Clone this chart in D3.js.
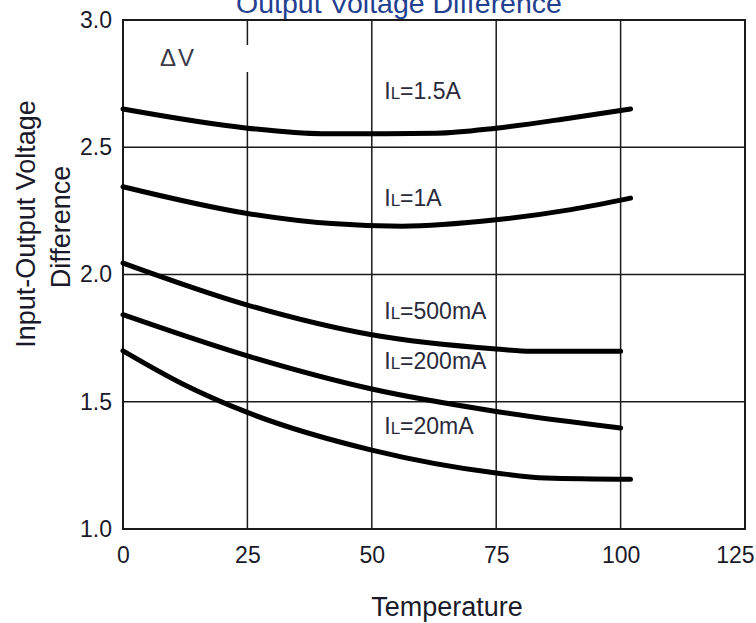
<!DOCTYPE html>
<html>
<head>
<meta charset="utf-8">
<script src="https://cdn.jsdelivr.net/npm/d3@7/dist/d3.min.js"></script>
<style>
  html, body { margin: 0; padding: 0; background: #fff; }
  svg { display: block; font-family: "Liberation Sans", Arial, sans-serif; }
</style>
</head>
<body>
<svg id="chart" width="756" height="623"></svg>
<script>
// ---- data ----
const chartTitle = "Output Voltage Difference";
const xTitle = "Temperature";
const yTitleLines = ["Input-Output Voltage", "Difference"];
const xTicks = [0, 25, 50, 75, 100, 125];
const yTicks = [1.0, 1.5, 2.0, 2.5, 3.0];

const t_1500mA = [0, 25, 40, 50, 63, 75, 90, 102];
const v_1500mA = [2.65, 2.575, 2.553, 2.553, 2.555, 2.575, 2.615, 2.65];

const t_1000mA = [0, 25, 42, 56, 75, 90, 102];
const v_1000mA = [2.345, 2.24, 2.20, 2.19, 2.215, 2.255, 2.30];

const t_500mA = [0, 25, 50, 75, 82, 100];
const v_500mA = [2.045, 1.88, 1.763, 1.707, 1.698, 1.698];

const t_200mA = [0, 25, 50, 75, 100];
const v_200mA = [1.842, 1.68, 1.55, 1.462, 1.397];

const t_20mA = [0, 12, 25, 50, 75, 85, 102];
const v_20mA = [1.70, 1.57, 1.458, 1.31, 1.22, 1.20, 1.195];

const seriesLabels = ["=1.5A", "=1A", "=500mA", "=200mA", "=20mA"];

const series = [
  { label: seriesLabels[0], t: t_1500mA, v: v_1500mA },
  { label: seriesLabels[1], t: t_1000mA, v: v_1000mA },
  { label: seriesLabels[2], t: t_500mA, v: v_500mA },
  { label: seriesLabels[3], t: t_200mA, v: v_200mA },
  { label: seriesLabels[4], t: t_20mA, v: v_20mA }
];
// label anchor positions in data units (temperature, voltage)
const labelT = [52.5, 52.5, 52.5, 52.5, 52.5];
const labelV = [2.69, 2.27, 1.825, 1.63, 1.375];

// ---- layout ----
const svg = d3.select("#chart");
const W = 756;
const L = 123, R = 745, T = 20, B = 529;
const x = d3.scaleLinear().domain([0, 125]).range([L, R]);
const y = d3.scaleLinear().domain([1.0, 3.0]).range([B, T]);

const gridColor = "#1a1a1a";

// gridlines
svg.append("g").selectAll("line.vg")
  .data(xTicks.filter(d => d > 0 && d < 125))
  .join("line")
  .attr("x1", d => x(d)).attr("x2", d => x(d))
  .attr("y1", T).attr("y2", B)
  .attr("stroke", gridColor).attr("stroke-width", 1.5);

svg.append("g").selectAll("line.hg")
  .data(yTicks.filter(d => d > 1.0 && d < 3.0))
  .join("line")
  .attr("x1", L).attr("x2", R)
  .attr("y1", d => y(d)).attr("y2", d => y(d))
  .attr("stroke", gridColor).attr("stroke-width", 1.5);

// gap in the 25 gridline next to the ΔV label
svg.append("rect")
  .attr("x", x(25) - 3).attr("y", 45)
  .attr("width", 6).attr("height", 27)
  .attr("fill", "#fff");

// frame
svg.append("rect")
  .attr("x", L).attr("y", T)
  .attr("width", R - L).attr("height", B - T)
  .attr("fill", "none").attr("stroke", gridColor).attr("stroke-width", 2);

// axes (labels only)
const xAxis = d3.axisBottom(x).tickValues(xTicks).tickSize(0).tickPadding(18)
  .tickFormat(d3.format("d"));
const gx = svg.append("g").attr("transform", `translate(0,${B})`).call(xAxis);
gx.select(".domain").remove();
gx.selectAll("text").attr("font-size", 23).attr("fill", "#1a1a2a")
  .attr("font-family", "'Liberation Sans', Arial, sans-serif");
// keep the last tick label inside the page, as in the reference
gx.selectAll(".tick").each(function(d) {
  const t = d3.select(this).select("text");
  const w = t.node().getComputedTextLength();
  const over = x(d) + w / 2 - (W - 2);
  if (over > 0) t.attr("x", -over);
});

const yAxis = d3.axisLeft(y).tickValues(yTicks).tickSize(0).tickPadding(11)
  .tickFormat(d3.format(".1f"));
const gy = svg.append("g").attr("transform", `translate(${L},0)`).call(yAxis);
gy.select(".domain").remove();
gy.selectAll("text").attr("font-size", 23).attr("fill", "#1a1a2a")
  .attr("font-family", "'Liberation Sans', Arial, sans-serif");

// curves
const line = d3.line()
  .x(d => x(d[0])).y(d => y(d[1]))
  .curve(d3.curveMonotoneX);

svg.append("g").selectAll("path.curve")
  .data(series)
  .join("path")
  .attr("d", s => line(s.t.map((t, i) => [t, s.v[i]])))
  .attr("fill", "none")
  .attr("stroke", "#000")
  .attr("stroke-width", 5)
  .attr("stroke-linecap", "round")
  .attr("stroke-linejoin", "round");

// curve labels  I_L=...
const lbl = svg.append("g").selectAll("text.lbl")
  .data(series)
  .join("text")
  .attr("x", (s, i) => x(labelT[i]))
  .attr("y", (s, i) => y(labelV[i]))
  .attr("font-size", 23)
  .attr("fill", "#2a2a3c");
lbl.append("tspan").text("I");
lbl.append("tspan").attr("font-size", 17).text("L");
lbl.append("tspan").text(s => s.label);

// ΔV
svg.append("text")
  .attr("x", 160).attr("y", 66)
  .attr("font-size", 24)
  .attr("fill", "#3a3a48")
  .attr("letter-spacing", 2)
  .text("\u0394V");

// title (cut off at top, as in the reference)
svg.append("text")
  .attr("x", 399).attr("y", 13)
  .attr("text-anchor", "middle")
  .attr("font-size", 28.5)
  .attr("fill", "#22408f")
  .text(chartTitle);

// x title
svg.append("text")
  .attr("x", 447).attr("y", 616)
  .attr("text-anchor", "middle")
  .attr("font-size", 27)
  .attr("fill", "#1a1a2a")
  .text(xTitle);

// y title (two rotated lines)
svg.append("text")
  .attr("transform", "translate(35,224) rotate(-90)")
  .attr("text-anchor", "middle")
  .attr("font-size", 27)
  .attr("fill", "#1a1a2a")
  .text(yTitleLines[0]);
svg.append("text")
  .attr("transform", "translate(70,227) rotate(-90)")
  .attr("text-anchor", "middle")
  .attr("font-size", 27)
  .attr("fill", "#1a1a2a")
  .text(yTitleLines[1]);
</script>
</body>
</html>
